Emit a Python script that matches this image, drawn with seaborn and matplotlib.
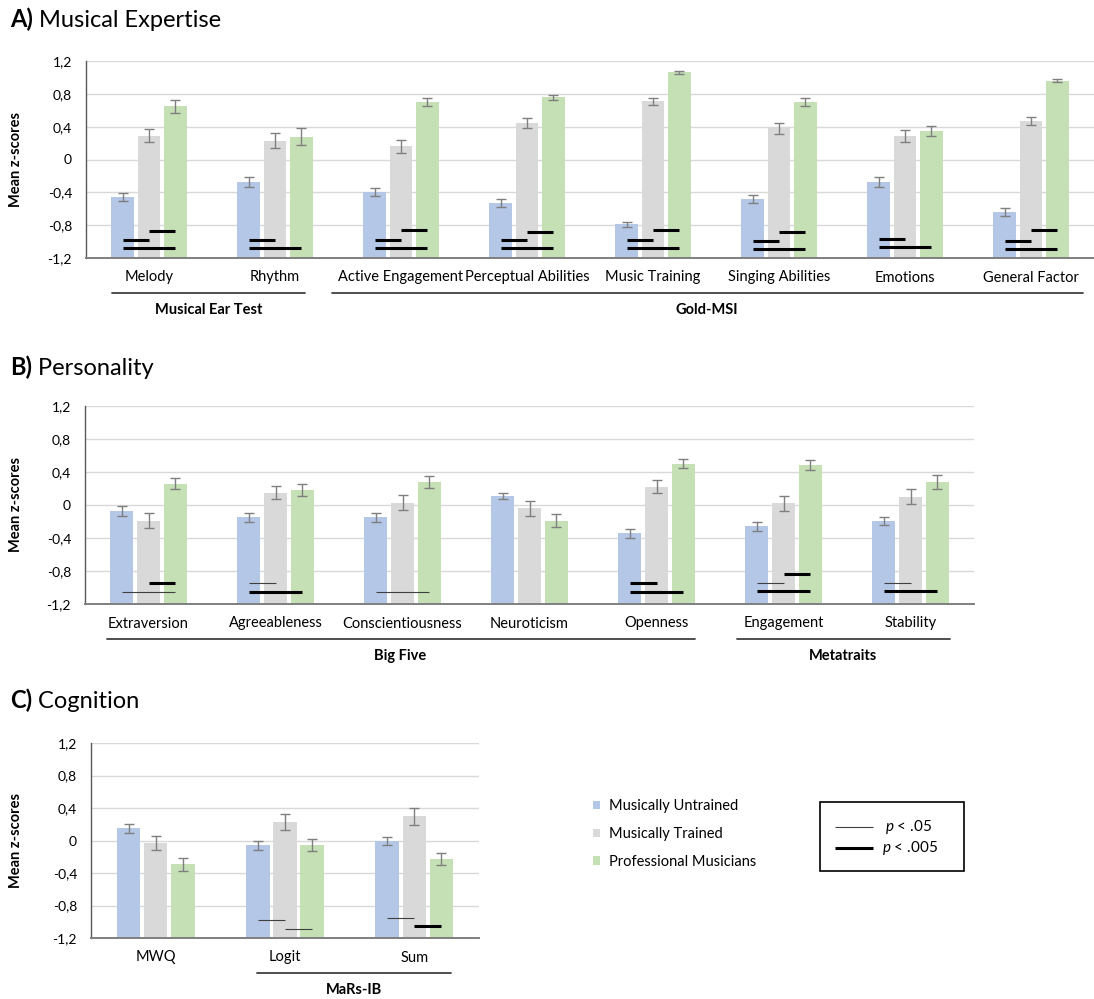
import numpy as np
import pandas as pd
import matplotlib
matplotlib.use("Agg")
import matplotlib.pyplot as plt
import seaborn as sns
from matplotlib.patches import Patch, Rectangle
from matplotlib.lines import Line2D
from matplotlib.container import BarContainer
from matplotlib import transforms

# ---------------- data ----------------
GROUPS = ["Musically Untrained", "Musically Trained", "Professional Musicians"]
COLORS = ["#B4C7E7", "#D9D9D9", "#C5E0B4"]

# Panel A - Musical Expertise
a_categories = ["Melody", "Rhythm", "Active Engagement", "Perceptual Abilities",
                "Music Training", "Singing Abilities", "Emotions", "General Factor"]
a_untrained = [-0.46, -0.27, -0.40, -0.53, -0.79, -0.48, -0.27, -0.64]
a_trained = [0.29, 0.23, 0.16, 0.44, 0.71, 0.38, 0.29, 0.47]
a_professional = [0.65, 0.28, 0.70, 0.76, 1.06, 0.70, 0.35, 0.96]
a_untrained_err = [0.05, 0.06, 0.05, 0.05, 0.03, 0.05, 0.06, 0.045]
a_trained_err = [0.08, 0.09, 0.075, 0.06, 0.04, 0.07, 0.075, 0.05]
a_professional_err = [0.08, 0.10, 0.05, 0.03, 0.015, 0.045, 0.06, 0.02]
# significance bars: (category index, group i, group j, y level, p-level)
a_sig = [
    (0, 0, 1, -0.98, "p005"), (0, 1, 2, -0.87, "p005"), (0, 0, 2, -1.08, "p005"),
    (1, 0, 1, -0.98, "p005"), (1, 0, 2, -1.08, "p005"),
    (2, 0, 1, -0.98, "p005"), (2, 1, 2, -0.86, "p005"), (2, 0, 2, -1.08, "p005"),
    (3, 0, 1, -0.98, "p005"), (3, 1, 2, -0.88, "p005"), (3, 0, 2, -1.08, "p005"),
    (4, 0, 1, -0.98, "p005"), (4, 1, 2, -0.86, "p005"), (4, 0, 2, -1.08, "p005"),
    (5, 0, 1, -0.99, "p005"), (5, 1, 2, -0.88, "p005"), (5, 0, 2, -1.09, "p005"),
    (6, 0, 1, -0.97, "p005"), (6, 0, 2, -1.07, "p005"),
    (7, 0, 1, -0.99, "p005"), (7, 1, 2, -0.86, "p005"), (7, 0, 2, -1.09, "p005"),
]
a_brackets = [("Musical Ear Test", 0, 1), ("Gold-MSI", 2, 7)]

# Panel B - Personality
b_categories = ["Extraversion", "Agreeableness", "Conscientiousness", "Neuroticism",
                "Openness", "Engagement", "Stability"]
b_untrained = [-0.07, -0.15, -0.15, 0.11, -0.34, -0.26, -0.19]
b_trained = [-0.19, 0.15, 0.03, -0.04, 0.22, 0.02, 0.10]
b_professional = [0.26, 0.18, 0.28, -0.19, 0.50, 0.48, 0.28]
b_untrained_err = [0.06, 0.05, 0.05, 0.04, 0.055, 0.05, 0.05]
b_trained_err = [0.09, 0.08, 0.09, 0.09, 0.08, 0.09, 0.09]
b_professional_err = [0.07, 0.07, 0.07, 0.08, 0.055, 0.06, 0.08]
b_sig = [
    (0, 1, 2, -0.95, "p005"), (0, 0, 2, -1.06, "p05"),
    (1, 0, 1, -0.95, "p05"), (1, 0, 2, -1.06, "p005"),
    (2, 0, 2, -1.06, "p05"),
    (4, 0, 1, -0.95, "p005"), (4, 0, 2, -1.06, "p005"),
    (5, 0, 1, -0.94, "p05"), (5, 1, 2, -0.84, "p005"), (5, 0, 2, -1.04, "p005"),
    (6, 0, 1, -0.94, "p05"), (6, 0, 2, -1.04, "p005"),
]
b_brackets = [("Big Five", 0, 4), ("Metatraits", 5, 6)]

# Panel C - Cognition
c_categories = ["MWQ", "Logit", "Sum"]
c_untrained = [0.15, -0.06, -0.01]
c_trained = [-0.03, 0.23, 0.30]
c_professional = [-0.29, -0.06, -0.23]
c_untrained_err = [0.055, 0.055, 0.05]
c_trained_err = [0.085, 0.10, 0.105]
c_professional_err = [0.08, 0.075, 0.075]
c_sig = [
    (1, 0, 1, -0.98, "p05"), (1, 1, 2, -1.09, "p05"),
    (2, 0, 1, -0.95, "p05"), (2, 1, 2, -1.05, "p005"),
]
c_brackets = [("MaRs-IB", 1, 2)]

y_ticks = [-1.2, -0.8, -0.4, 0, 0.4, 0.8, 1.2]
BASE = -1.2

# ---------------- style ----------------
sns.set_theme(style="white")
plt.rcParams["font.family"] = ["Lato", "DejaVu Sans"]
plt.rcParams["mathtext.fontset"] = "custom"
plt.rcParams["mathtext.it"] = "Lato:italic"
plt.rcParams["mathtext.rm"] = "Lato"
plt.rcParams["text.color"] = "black"

W, H = 1094, 999
fig = plt.figure(figsize=(W / 100, H / 100), dpi=100)

LINE_STYLE = {"p05": dict(lw=0.8, color="#404040"), "p005": dict(lw=2.2, color="black")}


def fmt(v):
    return "0" if abs(v) < 1e-9 else f"{v:.1f}".replace(".", ",")


def panel(px_box, cats, vals, errs, sig, brackets, bracket_pads):
    l, r, t, b = px_box
    ax = fig.add_axes([l / W, 1 - b / H, (r - l) / W, (b - t) / H])
    rows = []
    for g, gname in enumerate(GROUPS):
        for c, cname in enumerate(cats):
            rows.append((cname, gname, vals[g][c]))
    df = pd.DataFrame(rows, columns=["category", "group", "z"])
    sns.barplot(data=df, x="category", y="z", hue="group", order=cats,
                hue_order=GROUPS, palette=COLORS, saturation=1, errorbar=None,
                width=0.63, gap=0.14, legend=False, ax=ax, zorder=2)
    bar_containers = [cont for cont in ax.containers if isinstance(cont, BarContainer)]
    centers = []
    for g, cont in enumerate(bar_containers):
        xs = []
        for p in cont.patches:
            top = p.get_y() + p.get_height()
            p.set_y(BASE)
            p.set_height(top - BASE)
            p.set_edgecolor("none")
            xs.append(p.get_x() + p.get_width() / 2)
        centers.append(xs)
    for g in range(len(GROUPS)):
        ax.errorbar(centers[g], vals[g], yerr=errs[g], fmt="none", ecolor="#7F7F7F",
                    elinewidth=1, capsize=3.5, capthick=1, zorder=3)
    for c, g1, g2, y, lvl in sig:
        ax.plot([centers[g1][c], centers[g2][c]], [y, y], solid_capstyle="butt",
                zorder=4, **LINE_STYLE[lvl])

    ax.set_ylim(-1.2, 1.2)
    ax.set_xlim(-0.5, len(cats) - 0.5)
    ax.set_yticks(y_ticks)
    ax.set_yticklabels([fmt(v) for v in y_ticks])
    ax.yaxis.grid(True, color="#D9D9D9", lw=1)
    ax.xaxis.grid(False)
    ax.set_axisbelow(True)
    for s in ["top", "right"]:
        ax.spines[s].set_visible(False)
    ax.spines["left"].set_color("#595959")
    ax.spines["left"].set_linewidth(1)
    ax.spines["bottom"].set_color("#7F7F7F")
    ax.spines["bottom"].set_linewidth(1.4)
    ax.tick_params(axis="y", length=0, pad=10, labelsize=10, labelcolor="black")
    ax.tick_params(axis="x", length=0, pad=9, labelsize=10.5, labelcolor="black")
    ax.set_xlabel("")
    ax.set_ylabel("Mean z-scores", fontsize=10.5, fontweight="bold", color="black")
    ax.yaxis.label.set_va("center")
    ax.yaxis.set_label_coords((16 - l) / (r - l), 0.5)

    trans = ax.get_xaxis_transform()
    tl = transforms.offset_copy(trans, fig=fig, y=-35, units="dots")
    tt = transforms.offset_copy(trans, fig=fig, y=-52, units="dots")
    for (name, i0, i1), (pl, pr) in zip(brackets, bracket_pads):
        x0, x1 = i0 - pl, i1 + pr
        ax.plot([x0, x1], [0, 0], transform=tl, color="#404040", lw=1.3, clip_on=False)
        ax.text((x0 + x1) / 2, 0, name, transform=tt, ha="center", va="center",
                fontsize=10.5, fontweight="bold")
    return ax


panel((86, 1094, 61, 258), a_categories,
      [a_untrained, a_trained, a_professional],
      [a_untrained_err, a_trained_err, a_professional_err],
      a_sig, a_brackets, [(0.29, 0.24), (0.55, 0.41)])
panel((85, 974, 406, 604), b_categories,
      [b_untrained, b_trained, b_professional],
      [b_untrained_err, b_trained_err, b_professional_err],
      b_sig, b_brackets, [(0.33, 0.30), (0.37, 0.31)])
panel((91, 479, 743, 938), c_categories,
      [c_untrained, c_trained, c_professional],
      [c_untrained_err, c_trained_err, c_professional_err],
      c_sig, c_brackets, [(0.22, 0.28)])

# ---------------- panel titles ----------------
renderer = fig.canvas.get_renderer()
for letter, rest, base_px in [("A)", " Musical Expertise", 27),
                              ("B)", " Personality", 375),
                              ("C)", " Cognition", 708)]:
    t1 = fig.text(10 / W, 1 - base_px / H, letter, fontsize=17, fontweight="bold",
                  va="baseline", ha="left")
    bb = t1.get_window_extent(renderer)
    fig.text(bb.x1 / W, 1 - base_px / H, rest, fontsize=17, va="baseline", ha="left")

# ---------------- legends ----------------
handles = [Patch(facecolor=c, edgecolor="none") for c in COLORS]
fig.legend(handles=handles, labels=GROUPS, loc="upper left",
           bbox_to_anchor=(593 / W, 1 - 799 / H), frameon=False, fontsize=10.5,
           handlelength=0.5, handleheight=0.5, handletextpad=0.6,
           labelspacing=0.95, borderpad=0, borderaxespad=0)

fig.add_artist(Rectangle((820 / W, 1 - 871 / H), 144 / W, 69 / H,
                         transform=fig.transFigure, fill=False, ec="black", lw=1.2))
fig.add_artist(Line2D([835 / W, 873 / W], [1 - 827 / H] * 2, transform=fig.transFigure,
                      solid_capstyle="butt", **LINE_STYLE["p05"]))
fig.add_artist(Line2D([835 / W, 873 / W], [1 - 848 / H] * 2, transform=fig.transFigure,
                      solid_capstyle="butt", **LINE_STYLE["p005"]))
fig.text(885 / W, 1 - 827 / H, "$p$ < .05", va="center", ha="left", fontsize=11)
fig.text(882 / W, 1 - 848 / H, "$p$ < .005", va="center", ha="left", fontsize=11)

fig.savefig("out.png", dpi=100, facecolor="white")
